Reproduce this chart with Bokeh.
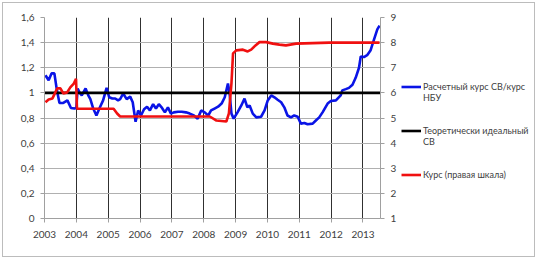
import numpy as np
from bokeh.plotting import figure
from bokeh.layouts import row
from bokeh.models import (Range1d, LinearAxis, FixedTicker, Legend, LegendItem)
from bokeh.embed import file_html
from bokeh.resources import INLINE

# ---- data (decimal years) ----
blue_t = [2003.03, 2003.13, 2003.22, 2003.31, 2003.39, 2003.47, 2003.59, 2003.72, 2003.83, 2003.94,
          2004.00, 2004.04, 2004.12, 2004.17, 2004.29, 2004.375, 2004.44, 2004.53, 2004.63, 2004.73,
          2004.84, 2004.95, 2005.03, 2005.13, 2005.22, 2005.31, 2005.375, 2005.47, 2005.58, 2005.69,
          2005.77, 2005.86, 2005.94, 2006.03, 2006.125, 2006.22, 2006.31, 2006.41, 2006.50, 2006.59,
          2006.69, 2006.78, 2006.875, 2006.97, 2007.06, 2007.19, 2007.31, 2007.44, 2007.56, 2007.69,
          2007.81, 2007.92, 2008.03, 2008.14, 2008.23, 2008.34, 2008.45, 2008.56, 2008.66, 2008.76,
          2008.81, 2008.87, 2008.94, 2009.06, 2009.18, 2009.28, 2009.37, 2009.44, 2009.54, 2009.65,
          2009.80, 2009.91, 2010.01, 2010.12, 2010.22, 2010.32, 2010.43, 2010.53, 2010.63, 2010.74,
          2010.84, 2010.95, 2011.05, 2011.16, 2011.26, 2011.42, 2011.52, 2011.625, 2011.73, 2011.89,
          2011.99, 2012.15, 2012.30, 2012.35, 2012.46, 2012.56, 2012.67, 2012.77, 2012.875, 2012.93,
          2013.03, 2013.13, 2013.24, 2013.34, 2013.45, 2013.52]
blue_v = [1.14, 1.10, 1.155, 1.155, 1.02, 0.92, 0.92, 0.94, 0.88, 0.875,
          0.88, 1.035, 0.995, 0.98, 1.035, 0.98, 0.95, 0.875, 0.82, 0.88,
          0.94, 1.04, 0.965, 0.955, 0.955, 0.94, 0.95, 0.995, 0.95, 0.97,
          0.925, 0.77, 0.86, 0.82, 0.87, 0.89, 0.86, 0.91, 0.875, 0.91,
          0.88, 0.845, 0.885, 0.835, 0.845, 0.85, 0.85, 0.845, 0.835, 0.82,
          0.795, 0.86, 0.845, 0.82, 0.86, 0.875, 0.89, 0.915, 0.965, 1.075,
          1.0, 0.835, 0.795, 0.845, 0.90, 0.955, 0.885, 0.90, 0.835, 0.805,
          0.81, 0.86, 0.94, 0.98, 0.965, 0.945, 0.925, 0.885, 0.82, 0.805,
          0.82, 0.81, 0.755, 0.76, 0.75, 0.755, 0.78, 0.805, 0.845, 0.915,
          0.935, 0.94, 0.98, 1.02, 1.03, 1.04, 1.065, 1.12, 1.20, 1.29,
          1.285, 1.30, 1.34, 1.42, 1.505, 1.535]

red_t = [2003.03, 2003.13, 2003.25, 2003.31, 2003.40, 2003.50, 2003.59, 2003.71, 2003.81, 2003.92,
         2003.99, 2004.02, 2005.17, 2005.28, 2005.375, 2008.19, 2008.40, 2008.71, 2008.79, 2008.87,
         2008.92, 2009.02, 2009.23, 2009.38, 2009.49, 2009.625, 2009.75, 2009.96, 2010.17, 2010.375,
         2010.58, 2010.90, 2011.42, 2011.94, 2013.52]
red_v = [5.63, 5.74, 5.78, 5.94, 6.18, 6.18, 5.98, 6.02, 6.22, 6.37,
         6.56, 5.37, 5.37, 5.18, 5.06, 5.06, 4.90, 4.86, 5.18, 6.38,
         7.57, 7.69, 7.72, 7.65, 7.72, 7.89, 8.02, 8.02, 7.96, 7.92,
         7.89, 7.96, 7.98, 8.0, 8.0]

ideal_t = [2003.0, 2013.55]
ideal_v = [1.0, 1.0]

years = list(range(2003, 2014))
left_ticks = [0, 0.2, 0.4, 0.6, 0.8, 1.0, 1.2, 1.4, 1.6]
left_labels = ["0", "0,2", "0,4", "0,6", "0,8", "1", "1,2", "1,4", "1,6"]
right_ticks = [1, 2, 3, 4, 5, 6, 7, 8, 9]

legend_labels = ["Расчетный курс СВ/курс", "НБУ", "Теоретически идеальный", "СВ",
                 "Курс (правая шкала)"]

FONT = "Lato"
TXT = "#404040"
BLUE, BLACK, RED = "#0a14e6", "black", "#f01010"

# ---- main chart ----
p = figure(width=397, height=253, output_backend="svg", toolbar_location=None,
           x_range=Range1d(2003, 2013.55), y_range=Range1d(0, 1.6),
           min_border_left=41, min_border_right=20, min_border_top=14, min_border_bottom=38)
p.outline_line_color = None
p.background_fill_color = "white"
p.border_fill_color = "white"
p.extra_y_ranges = {"r": Range1d(1, 9)}

p.xaxis.ticker = FixedTicker(ticks=years)
p.xaxis.major_label_overrides = {y: str(y) for y in years}
p.yaxis.ticker = FixedTicker(ticks=left_ticks)
p.yaxis.major_label_overrides = {t: l for t, l in zip(left_ticks, left_labels)}
for ax in (p.xaxis[0], p.yaxis[0]):
    ax.axis_line_color = "#a0a0a0"
    ax.major_tick_line_color = "#a0a0a0"
    ax.major_tick_out = 4
    ax.major_tick_in = 0
    ax.minor_tick_line_color = None
    ax.major_label_text_font = FONT
    ax.major_label_text_font_size = "10px"
    ax.major_label_text_color = TXT
p.xaxis.major_label_standoff = 8
p.yaxis.major_label_standoff = 6

rax = LinearAxis(y_range_name="r", ticker=FixedTicker(ticks=right_ticks))
rax.axis_line_color = "#a0a0a0"
rax.major_tick_line_color = "#a0a0a0"
rax.major_tick_out = 4
rax.major_tick_in = 0
rax.minor_tick_line_color = None
rax.major_label_text_font = FONT
rax.major_label_text_font_size = "10px"
rax.major_label_text_color = TXT
rax.major_label_standoff = 6
p.add_layout(rax, "right")

p.xgrid.ticker = FixedTicker(ticks=years[1:])
p.xgrid.grid_line_color = "#303030"
p.ygrid.ticker = FixedTicker(ticks=left_ticks[1:])
p.ygrid.grid_line_color = "#b0b0b0"

p.line(blue_t, blue_v, line_color=BLUE, line_width=2.6)
p.line(ideal_t, ideal_v, line_color=BLACK, line_width=2.6)
p.line(red_t, red_v, line_color=RED, line_width=2.6, y_range_name="r")

# ---- legend panel (proxy renderers carry only the line styles) ----
lg = figure(width=134, height=253, output_backend="svg", toolbar_location=None,
            x_range=Range1d(0, 1), y_range=Range1d(0, 1),
            x_axis_location=None, y_axis_location=None,
            min_border=0)
lg.outline_line_color = None
lg.xgrid.visible = False
lg.ygrid.visible = False
lg.border_fill_color = "white"
nan = np.array([np.nan])
lr_blue = lg.line(nan, nan, line_color=BLUE, line_width=2.6)
lr_black = lg.line(nan, nan, line_color=BLACK, line_width=2.6)
lr_red = lg.line(nan, nan, line_color=RED, line_width=2.6)
lr_none = lg.line(nan, nan, line_alpha=0)

rows = [(legend_labels[0], lr_blue), (legend_labels[1], lr_none), (" ", lr_none), ("  ", lr_none),
        (legend_labels[2], lr_black), (legend_labels[3], lr_none), ("   ", lr_none), ("    ", lr_none),
        (legend_labels[4], lr_red)]
legend = Legend(items=[LegendItem(label=l, renderers=[r]) for l, r in rows],
                location=(1, 38), orientation="vertical",
                glyph_width=20, glyph_height=11, label_height=11, spacing=0,
                label_standoff=2, padding=0, margin=0,
                border_line_color=None, background_fill_alpha=0,
                label_text_font=FONT, label_text_font_size="9px", label_text_color=TXT,
                label_text_baseline="middle")
lg.add_layout(legend, "center")

layout = row(p, lg, spacing=0, margin=(2, 0, 0, 2),
             styles={"border": "1px solid #bcbcbc", "background": "white"})

open("out.html", "w").write(file_html(layout, INLINE))
